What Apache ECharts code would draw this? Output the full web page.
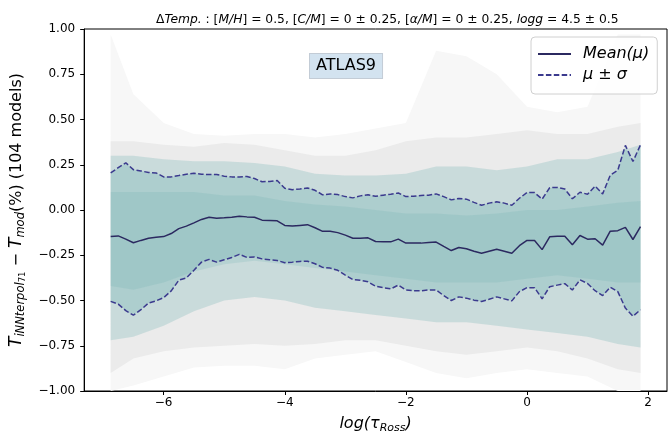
<!DOCTYPE html>
<html><head><meta charset="utf-8">
<script src="https://cdn.jsdelivr.net/npm/echarts@6/dist/echarts.min.js"></script>
<style>html,body{margin:0;padding:0;background:#fff}#c{width:668px;height:439px}</style>
</head><body><div id="c"></div>
<script>
// ---- data ----
const tau = [-6.875,-6.75,-6.625,-6.5,-6.375,-6.25,-6.125,-6.0,-5.875,-5.75,-5.625,-5.5,-5.375,-5.25,-5.125,-5.0,-4.875,-4.75,-4.625,-4.5,-4.375,-4.25,-4.125,-4.0,-3.875,-3.75,-3.625,-3.5,-3.375,-3.25,-3.125,-3.0,-2.875,-2.75,-2.625,-2.5,-2.375,-2.25,-2.125,-2.0,-1.875,-1.75,-1.625,-1.5,-1.375,-1.25,-1.125,-1.0,-0.875,-0.75,-0.625,-0.5,-0.375,-0.25,-0.125,0.0,0.125,0.25,0.375,0.5,0.625,0.75,0.875,1.0,1.125,1.25,1.375,1.5,1.625,1.75,1.875];
const meanVals = [-0.147,-0.143,-0.161,-0.181,-0.168,-0.156,-0.150,-0.147,-0.130,-0.103,-0.089,-0.071,-0.052,-0.040,-0.045,-0.043,-0.040,-0.034,-0.038,-0.040,-0.056,-0.058,-0.060,-0.085,-0.089,-0.085,-0.081,-0.098,-0.118,-0.118,-0.125,-0.139,-0.156,-0.156,-0.154,-0.174,
  -0.176,-0.176,-0.161,-0.183,-0.183,-0.183,-0.179,-0.177,-0.201,-0.224,-0.207,-0.214,-0.228,-0.239,-0.228,-0.217,-0.228,-0.239,-0.197,-0.168,-0.168,-0.219,-0.148,-0.145,-0.145,-0.192,-0.141,-0.161,-0.159,-0.194,-0.117,-0.114,-0.096,-0.163,-0.092];
const upperVals = [0.205,0.234,0.261,0.223,0.216,0.207,0.205,0.183,0.183,0.190,0.198,0.203,0.198,0.196,0.196,0.187,0.183,0.183,0.185,0.174,0.156,0.158,0.163,0.120,0.112,0.116,0.122,0.109,0.084,0.089,0.085,0.074,0.067,0.078,0.084,0.076,
  0.082,0.087,0.094,0.074,0.076,0.080,0.082,0.089,0.074,0.056,0.064,0.060,0.042,0.026,0.038,0.045,0.038,0.026,0.065,0.096,0.096,0.060,0.123,0.125,0.116,0.062,0.098,0.087,0.132,0.089,0.192,0.219,0.357,0.268,0.360];
const lowerVals = [-0.505,-0.520,-0.556,-0.581,-0.551,-0.514,-0.502,-0.484,-0.447,-0.388,-0.375,-0.333,-0.288,-0.273,-0.288,-0.275,-0.262,-0.245,-0.262,-0.259,-0.270,-0.275,-0.279,-0.291,-0.288,-0.284,-0.283,-0.297,-0.317,-0.321,-0.333,-0.360,-0.384,-0.388,-0.397,-0.421,
  -0.429,-0.436,-0.415,-0.442,-0.446,-0.446,-0.442,-0.442,-0.473,-0.500,-0.480,-0.487,-0.498,-0.505,-0.493,-0.480,-0.491,-0.502,-0.451,-0.429,-0.429,-0.491,-0.424,-0.415,-0.407,-0.442,-0.386,-0.406,-0.446,-0.473,-0.426,-0.451,-0.542,-0.587,-0.551];

// spread of the 104 individual models (background shading), read at coarse depths
const bandX        = [-6.875,-6.5,-6.0,-5.5,-5.0,-4.5,-4.0,-3.5,-3.0,-2.5,-2.0,-1.5,-1.0,-0.5,0.0,0.5,1.0,1.5,1.875];
const outerHi      = [0.97,0.64,0.48,0.42,0.41,0.42,0.42,0.40,0.42,0.45,0.48,0.88,0.85,0.75,0.57,0.54,0.57,0.97,0.97];
const outerLo      = [-1.0,-0.97,-0.92,-0.87,-0.86,-0.86,-0.88,-0.82,-0.80,-0.78,-0.84,-0.90,-0.93,-0.90,-0.88,-0.90,-0.92,-1.0,-1.0];
const greyHi       = [0.38,0.38,0.36,0.35,0.37,0.36,0.33,0.30,0.30,0.33,0.38,0.40,0.40,0.42,0.44,0.42,0.42,0.46,0.48];
const greyLo       = [-0.90,-0.82,-0.78,-0.76,-0.75,-0.74,-0.75,-0.74,-0.72,-0.72,-0.75,-0.78,-0.80,-0.78,-0.76,-0.78,-0.82,-0.88,-0.90];
const tealHi       = [0.30,0.30,0.28,0.27,0.27,0.26,0.24,0.20,0.19,0.19,0.20,0.24,0.24,0.22,0.24,0.28,0.28,0.32,0.36];
const tealLo       = [-0.72,-0.70,-0.64,-0.56,-0.50,-0.48,-0.50,-0.54,-0.56,-0.58,-0.60,-0.62,-0.62,-0.64,-0.66,-0.68,-0.70,-0.74,-0.76];
const coreHi       = [0.10,0.10,0.10,0.10,0.08,0.08,0.05,0.03,0.02,0.00,-0.02,-0.02,-0.03,-0.02,0.00,0.00,0.02,0.04,0.05];
const coreLo       = [-0.42,-0.44,-0.40,-0.34,-0.30,-0.28,-0.30,-0.32,-0.34,-0.36,-0.38,-0.40,-0.40,-0.40,-0.38,-0.36,-0.38,-0.40,-0.40];

const xTickValues = [-6,-4,-2,0,2];
const seriesNames = ['Mean(\u03bc)', '\u03bc \u00b1 \u03c3'];

// ---- chart ----
const FONT = 'DejaVu Sans';
const minus = (v, d) => { const s = Math.abs(v).toFixed(d); return (v < 0 && Number(s) !== 0 ? '\u2212' : '') + s; };

function band(xs, lo, hi, color, z) {
  return {
    type: 'custom', silent: true, clip: true, z: z, animation: false,
    data: xs.map((x, i) => [x, lo[i], hi[i]]),
    encode: { x: 0, y: [1, 2] },
    renderItem: (params, api) => {
      if (params.dataIndexInside !== 0) return null;
      const pts = [];
      for (let i = 0; i < xs.length; i++) pts.push(api.coord([xs[i], hi[i]]));
      for (let i = xs.length - 1; i >= 0; i--) pts.push(api.coord([xs[i], lo[i]]));
      return { type: 'polygon', shape: { points: pts }, style: { fill: color } };
    }
  };
}

const chart = echarts.init(document.getElementById('c'), null, { renderer: 'canvas' });
chart.setOption({
  animation: false,
  backgroundColor: '#fff',
  title: {
    text: '{n|\u0394}{i|Temp.}{n| : [}{i|M/H}{n|] = 0.5, [}{i|C/M}{n|] = 0 \u00b1 0.25, [}{i|\u03b1/M}{n|] = 0 \u00b1 0.25, }{i|logg}{n| = 4.5 \u00b1 0.5}',
    left: 151, top: 9,
    textStyle: {
      fontFamily: FONT, fontSize: 12.3, fontWeight: 'normal', color: '#000',
      rich: {
        n: { fontFamily: FONT, fontSize: 12.3, color: '#000' },
        i: { fontFamily: FONT, fontSize: 12.3, fontStyle: 'italic', color: '#000' }
      }
    }
  },
  legend: {
    orient: 'vertical', left: 531, top: 37,
    data: seriesNames,
    itemWidth: 33, itemHeight: 12, itemGap: 1,
    padding: [7, 8, 9, 6],
    backgroundColor: 'rgba(255,255,255,0.85)', borderColor: '#d0d0d0', borderWidth: 1, borderRadius: 4,
    itemStyle: { color: 'rgba(0,0,0,0)', borderColor: 'rgba(0,0,0,0)', borderWidth: 0, opacity: 0 },
    textStyle: { fontFamily: FONT, fontSize: 16, fontStyle: 'italic', color: '#000', lineHeight: 20, padding: [0, 0, 0, 7] }
  },
  grid: { left: 82, top: 29, width: 585, height: 368, show: true, borderColor: '#000', borderWidth: 1, backgroundColor: 'transparent' },
  xAxis: {
    type: 'value', min: -7.3125, max: 2.3125,
    name: '{i|log(\u03c4}{s|Ross}{i|)}', nameLocation: 'middle', nameGap: 23,
    nameTextStyle: {
      fontFamily: FONT, color: '#000',
      rich: {
        i: { fontFamily: FONT, fontSize: 16, fontStyle: 'italic', lineHeight: 20, color: '#000' },
        s: { fontFamily: FONT, fontSize: 11, fontStyle: 'italic', lineHeight: 12, verticalAlign: 'bottom', color: '#000' }
      }
    },
    axisLine: { onZero: false, lineStyle: { color: '#000', width: 1 } },
    axisTick: { customValues: xTickValues, length: 4, lineStyle: { color: '#000' } },
    axisLabel: { customValues: xTickValues, fontFamily: FONT, fontSize: 12, color: '#000', margin: 6, formatter: v => minus(v, 0) },
    splitLine: { show: false }
  },
  yAxis: {
    type: 'value', min: -1, max: 1, interval: 0.25,
    name: '{it|T}{sub|iNNterpol}{ss|71}{n| \u2212 }{it|T}{sub|mod}{n|(%) (104 models)}',
    nameLocation: 'middle', nameGap: 49, nameRotate: 90,
    nameTextStyle: {
      fontFamily: FONT, color: '#000',
      rich: {
        it: { fontFamily: FONT, fontSize: 17, fontStyle: 'italic', lineHeight: 22, color: '#000' },
        n: { fontFamily: FONT, fontSize: 16, lineHeight: 22, color: '#000' },
        sub: { fontFamily: FONT, fontSize: 11.5, fontStyle: 'italic', lineHeight: 14, verticalAlign: 'bottom', color: '#000' },
        ss: { fontFamily: FONT, fontSize: 8.5, lineHeight: 9, verticalAlign: 'bottom', color: '#000' }
      }
    },
    axisLine: { onZero: false, lineStyle: { color: '#000', width: 1 } },
    axisTick: { length: 4, lineStyle: { color: '#000' } },
    axisLabel: { fontFamily: FONT, fontSize: 12, color: '#000', margin: 9, formatter: v => minus(v, 2) },
    splitLine: { show: false }
  },
  graphic: [{
    type: 'text', left: 309, top: 53, z: 100,
    style: {
      text: 'ATLAS9', fontFamily: FONT, fontSize: 16, fill: '#000',
      backgroundColor: '#d3e3f0', borderColor: '#c3ccd6', borderWidth: 1,
      padding: [4, 6, 4, 6]
    }
  }],
  series: [
    band(bandX, outerLo, outerHi, '#f7f7f7', 1),
    band(bandX, greyLo, greyHi, '#ebebeb', 2),
    band(bandX, tealLo, tealHi, 'rgba(140,190,190,0.36)', 3),
    band(tau, lowerVals, upperVals, 'rgba(110,175,175,0.30)', 4),
    band(bandX, coreLo, coreHi, 'rgba(100,170,170,0.18)', 5),
    {
      type: 'line', name: seriesNames[0], data: tau.map((x, i) => [x, meanVals[i]]),
      symbol: 'none', showSymbol: false, silent: true, z: 10,
      lineStyle: { color: '#2b2960', width: 1.5 }, itemStyle: { color: '#2b2960' }
    },
    {
      type: 'line', name: seriesNames[1], data: tau.map((x, i) => [x, upperVals[i]]),
      symbol: 'none', showSymbol: false, silent: true, z: 10,
      lineStyle: { color: '#3b3a8e', width: 1.5, type: [5.5, 2.4] }, itemStyle: { color: '#3b3a8e' }
    },
    {
      type: 'line', name: seriesNames[1], data: tau.map((x, i) => [x, lowerVals[i]]),
      symbol: 'none', showSymbol: false, silent: true, z: 10,
      lineStyle: { color: '#3b3a8e', width: 1.5, type: [5.5, 2.4] }, itemStyle: { color: '#3b3a8e' }
    }
  ]
});
</script>
</body></html>
